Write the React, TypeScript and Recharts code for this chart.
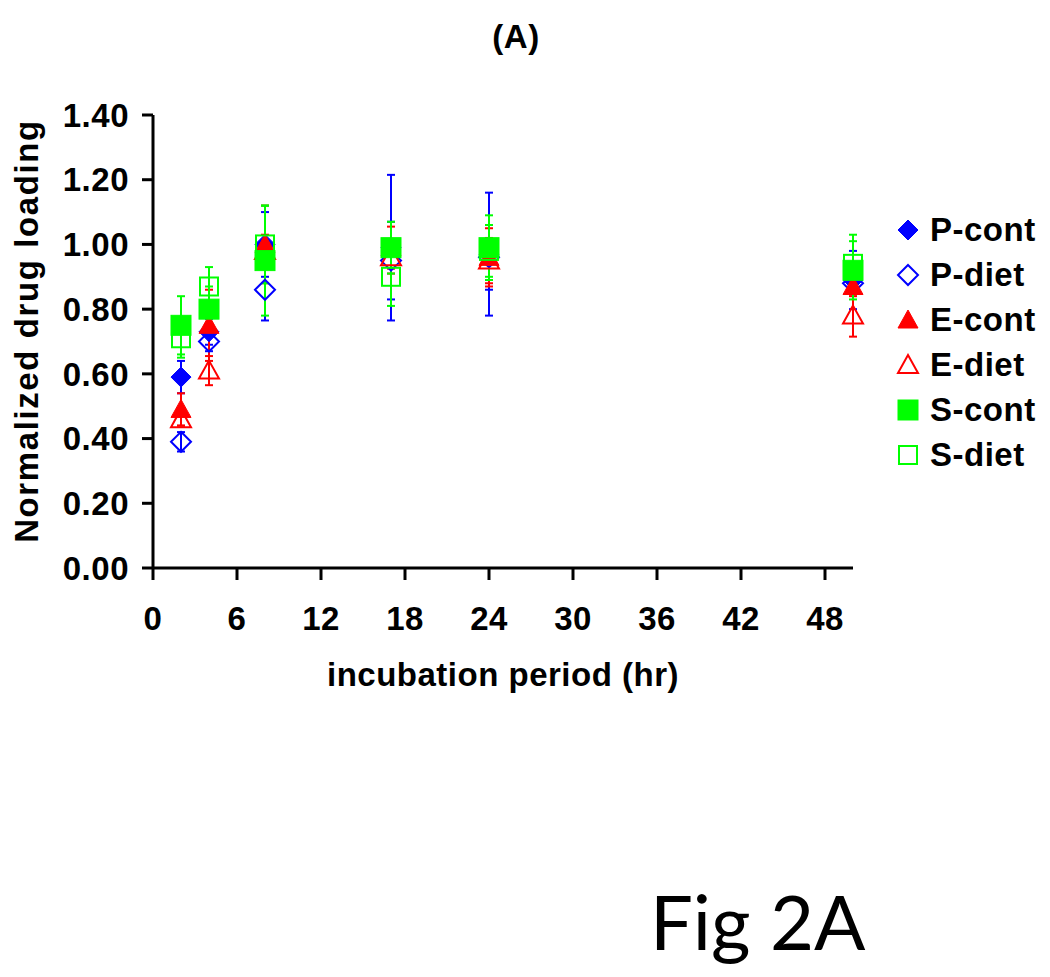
import React from "react";
import {
  ScatterChart,
  Scatter,
  XAxis,
  YAxis,
  ErrorBar,
  Legend,
  Label,
} from "recharts";

// incubation time points (hr)
const hours = [2, 4, 8, 17, 24, 50];

const pCont = [0.59, 0.73, 1.0, 0.99, 0.97, 0.89];
const pContErr = [0.05, 0.04, 0.1, 0.225, 0.19, 0.09];
const pDiet = [0.39, 0.7, 0.86, 0.95, 0.96, 0.88];
const pDietErr = [0.03, 0.03, 0.095, 0.12, 0.1, 0.03];
const eCont = [0.49, 0.75, 1.0, 0.99, 0.96, 0.87];
const eContErr = [0.05, 0.11, 0.12, 0.065, 0.09, 0.03];
const eDiet = [0.46, 0.61, 0.98, 0.96, 0.95, 0.78];
const eDietErr = [0.02, 0.045, 0.05, 0.05, 0.07, 0.065];
const sCont = [0.75, 0.8, 0.95, 0.99, 0.99, 0.92];
const sContErr = [0.09, 0.07, 0.17, 0.08, 0.1, 0.09];
const sDiet = [0.71, 0.87, 1.0, 0.9, 0.98, 0.94];
const sDietErr = [0.06, 0.06, 0.12, 0.09, 0.08, 0.09];

const xTicks = [0, 6, 12, 18, 24, 30, 36, 42, 48];
const yTicks = [0, 0.2, 0.4, 0.6, 0.8, 1.0, 1.2, 1.4];

const BLUE = "#0000ff";
const RED = "#ff0000";
const GREEN = "#00ff00";
const FONT = "'Liberation Sans', Arial, sans-serif";
const FS = 33;

type Kind = "diamond" | "triangle" | "square";

const series = [
  { name: "P-cont", vals: pCont, errs: pContErr, color: BLUE, kind: "diamond" as Kind, open: false },
  { name: "P-diet", vals: pDiet, errs: pDietErr, color: BLUE, kind: "diamond" as Kind, open: true },
  { name: "E-cont", vals: eCont, errs: eContErr, color: RED, kind: "triangle" as Kind, open: false },
  { name: "E-diet", vals: eDiet, errs: eDietErr, color: RED, kind: "triangle" as Kind, open: true },
  { name: "S-cont", vals: sCont, errs: sContErr, color: GREEN, kind: "square" as Kind, open: false },
  { name: "S-diet", vals: sDiet, errs: sDietErr, color: GREEN, kind: "square" as Kind, open: true },
];

function markerEl(kind: Kind, cx: number, cy: number, color: string, open: boolean) {
  const s = 10;
  const fill = open ? "none" : color;
  const sw = open ? 2 : 1;
  if (kind === "diamond") {
    return (
      <polygon
        points={`${cx},${cy - s} ${cx + s},${cy} ${cx},${cy + s} ${cx - s},${cy}`}
        fill={fill}
        stroke={color}
        strokeWidth={sw}
      />
    );
  }
  if (kind === "triangle") {
    return (
      <polygon
        points={`${cx},${cy - s} ${cx + s},${cy + 8} ${cx - s},${cy + 8}`}
        fill={fill}
        stroke={color}
        strokeWidth={sw}
      />
    );
  }
  return (
    <rect
      x={cx - s + (open ? 1 : 0)}
      y={cy - s + (open ? 1 : 0)}
      width={open ? 2 * s - 2 : 2 * s}
      height={open ? 2 * s - 2 : 2 * s}
      fill={fill}
      stroke={color}
      strokeWidth={sw}
    />
  );
}

const XTick = (props: any) => (
  <text
    x={props.x}
    y={props.y}
    dy="0.71em"
    textAnchor="middle"
    fontFamily={FONT}
    fontWeight="bold"
    fontSize={FS}
    style={{ letterSpacing: 0.5 }}
    fill="#000"
  >
    {props.payload.value}
  </text>
);

const YTick = (props: any) => (
  <text
    x={props.x}
    y={props.y}
    dy="0.355em"
    textAnchor="end"
    fontFamily={FONT}
    fontWeight="bold"
    fontSize={FS}
    style={{ letterSpacing: 0.5 }}
    fill="#000"
  >
    {Number(props.payload.value).toFixed(2)}
  </text>
);

const renderLegend = () => (
  <div style={{ fontFamily: FONT, fontWeight: "bold", fontSize: FS, letterSpacing: 0.5, color: "#000" }}>
    {series.map((s) => (
      <div key={s.name} style={{ height: 45, display: "flex", alignItems: "center" }}>
        <svg width={24} height={24} style={{ marginRight: 10 }}>
          {markerEl(s.kind, 12, 12, s.color, s.open)}
        </svg>
        <span style={{ lineHeight: "45px" }}>{s.name}</span>
      </div>
    ))}
  </div>
);

export default function App() {
  return (
    <div style={{ position: "absolute", left: 0, top: 0, width: 1050, height: 977, background: "#fff" }}>
      <ScatterChart
        width={1050}
        height={977}
        margin={{ top: 115, right: 197, bottom: 349, left: 83 }}
      >
        <XAxis
          type="number"
          dataKey="x"
          domain={[0, 50]}
          ticks={xTicks}
          interval={0}
          height={60}
          axisLine={{ stroke: "#000", strokeWidth: 3 }}
          tickLine={{ stroke: "#000", strokeWidth: 3 }}
          tickSize={12}
          tickMargin={27}
          tick={<XTick />}
        >
          <Label
            content={() => (
              <text
                x={503}
                y={686}
                textAnchor="middle"
                fontFamily={FONT}
                fontWeight="bold"
                fontSize={FS}
                style={{ letterSpacing: 0.5 }}
                fill="#000"
              >
                incubation period (hr)
              </text>
            )}
          />
        </XAxis>
        <YAxis
          type="number"
          dataKey="y"
          domain={[0, 1.4]}
          ticks={yTicks}
          interval={0}
          width={70}
          axisLine={{ stroke: "#000", strokeWidth: 3 }}
          tickLine={{ stroke: "#000", strokeWidth: 3 }}
          tickSize={11}
          tickMargin={13}
          tick={<YTick />}
        >
          <Label
            content={() => (
              <text
                x={38}
                y={331}
                transform="rotate(-90, 38, 331)"
                textAnchor="middle"
                fontFamily={FONT}
                fontWeight="bold"
                fontSize={FS}
                style={{ letterSpacing: 1.6 }}
                fill="#000"
              >
                Normalized drug loading
              </text>
            )}
          />
        </YAxis>
        <Legend
          layout="vertical"
          align="center"
          verticalAlign="middle"
          content={renderLegend}
          wrapperStyle={{ left: 896, top: 207, width: 154, height: 270 }}
        />
        {series.map((s) => (
          <Scatter
            key={s.name}
            name={s.name}
            data={hours.map((h, i) => ({ x: h, y: s.vals[i], err: s.errs[i] }))}
            isAnimationActive={false}
            shape={(p: any) => markerEl(s.kind, p.cx, p.cy, s.color, s.open)}
          >
            <ErrorBar dataKey="err" direction="y" width={4} stroke={s.color} strokeWidth={2} />
          </Scatter>
        ))}
      </ScatterChart>
      <svg width={1050} height={977} style={{ position: "absolute", left: 0, top: 0, pointerEvents: "none" }}>
        <text
          x={516}
          y={48}
          textAnchor="middle"
          fontFamily={FONT}
          fontWeight="bold"
          fontSize={FS}
          style={{ letterSpacing: 0.5 }}
          fill="#000"
        >
          (A)
        </text>
        <text x={650} y={950} fontFamily="Lato, 'Open Sans', sans-serif" fontSize={76} fill="#000">
          Fig 2A
        </text>
      </svg>
    </div>
  );
}
